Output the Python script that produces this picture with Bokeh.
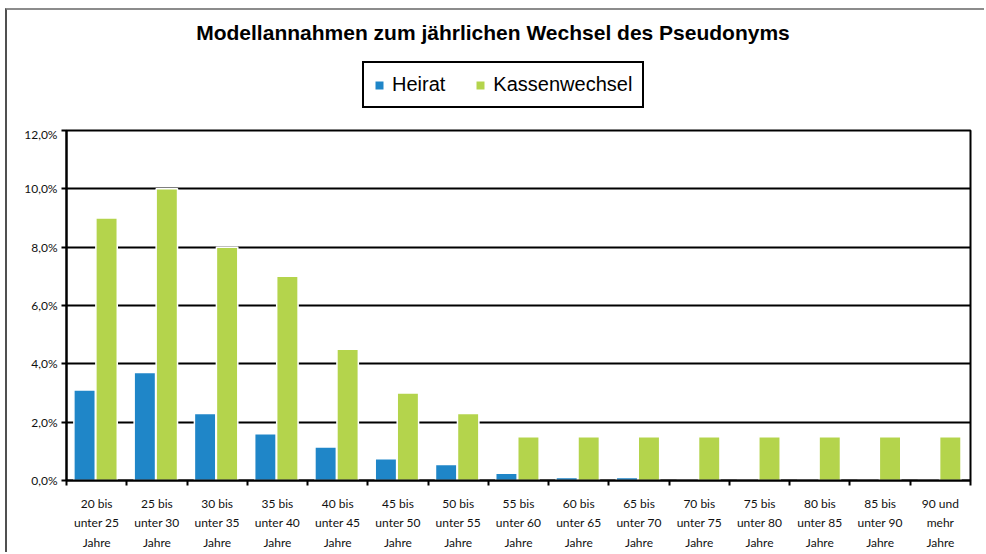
from bokeh.plotting import figure
from bokeh.layouts import column
from bokeh.models import FixedTicker, Legend, LegendItem, ColumnDataSource, Label
from bokeh.embed import file_html
from bokeh.resources import INLINE

categories = [
    "20 bis\nunter 25\nJahre", "25 bis\nunter 30\nJahre", "30 bis\nunter 35\nJahre",
    "35 bis\nunter 40\nJahre", "40 bis\nunter 45\nJahre", "45 bis\nunter 50\nJahre",
    "50 bis\nunter 55\nJahre", "55 bis\nunter 60\nJahre", "60 bis\nunter 65\nJahre",
    "65 bis\nunter 70\nJahre", "70 bis\nunter 75\nJahre", "75 bis\nunter 80\nJahre",
    "80 bis\nunter 85\nJahre", "85 bis\nunter 90\nJahre", "90 und\nmehr\nJahre",
]
heirat = [3.1, 3.7, 2.3, 1.6, 1.15, 0.75, 0.55, 0.25, 0.1, 0.1, 0.0, 0.0, 0.0, 0.0, 0.0]
kassenwechsel = [9.0, 10.0, 8.0, 7.0, 4.5, 3.0, 2.3, 1.5, 1.5, 1.5, 1.5, 1.5, 1.5, 1.5, 1.5]
y_ticks = [0, 2, 4, 6, 8, 10, 12]
y_tick_labels = ["0,0%", "2,0%", "4,0%", "6,0%", "8,0%", "10,0%", "12,0%"]
series_names = ["Heirat", "Kassenwechsel"]
title_text = "Modellannahmen zum jährlichen Wechsel des Pseudonyms"

BLUE = "#1F86C8"
GREEN = "#B4D44C"
W = 977
TOP_H = 116
MAIN_H = 426
BL, BR = 59, 14

# ---------- header: title + legend ----------
head = figure(width=W, height=TOP_H, output_backend="svg", toolbar_location=None,
              x_range=(66, 970), y_range=(0, TOP_H),
              x_axis_location=None, y_axis_location=None,
              min_border_left=BL, min_border_right=BR,
              min_border_top=0, min_border_bottom=0)
head.grid.visible = False
head.outline_line_color = None
head.background_fill_color = "white"
head.border_fill_color = "white"

title = Label(x=492.5, y=TOP_H - 22, text=title_text, text_align="center",
              text_baseline="middle", text_font="Liberation Sans",
              text_font_style="bold", text_font_size="21px", text_color="black")
head.add_layout(title)

# legend-only renderers (zero-height bars, outside the visible range)
lh = head.vbar(x=[0], top=[0], width=1, fill_color=BLUE, line_color=None)
lk = head.vbar(x=[0], top=[0], width=1, fill_color=GREEN, line_color=None)
legend = Legend(items=[LegendItem(label=series_names[0], renderers=[lh]),
                       LegendItem(label=series_names[1], renderers=[lk])],
                location=(296, TOP_H - 98), orientation="horizontal",
                label_text_font="Liberation Sans", label_text_font_size="20px",
                label_text_color="black",
                glyph_width=10, glyph_height=10, label_standoff=8, spacing=30,
                padding=10, margin=0, border_line_color="black", border_line_width=2,
                border_line_alpha=1.0, background_fill_alpha=1.0)
head.add_layout(legend)

# ---------- main chart ----------
n = len(categories)
idx = list(range(n))
src = ColumnDataSource(dict(
    xh=[i - 0.2 for i in idx],
    xk=[i + 0.165 for i in idx],
    heirat=heirat,
    kassen=kassenwechsel,
))

p = figure(width=W, height=MAIN_H, output_backend="svg", toolbar_location=None,
           x_range=(-0.5, n - 0.5), y_range=(0, 12),
           min_border_left=BL, min_border_right=BR, min_border_top=4, min_border_bottom=69)
p.background_fill_color = "white"
p.border_fill_color = "white"
p.outline_line_color = "black"
p.outline_line_width = 2

p.vbar(x="xh", top="heirat", width=0.355, source=src, fill_color=BLUE,
       line_color="white", line_width=1.5)
p.vbar(x="xk", top="kassen", width=0.355, source=src, fill_color=GREEN,
       line_color="white", line_width=1.5)

p.xgrid.visible = False
p.ygrid.ticker = FixedTicker(ticks=y_ticks)
p.ygrid.grid_line_color = "black"
p.ygrid.grid_line_width = 2

ya = p.yaxis[0]
ya.ticker = FixedTicker(ticks=y_ticks)
ya.major_label_overrides = {t: l for t, l in zip(y_ticks, y_tick_labels)}
ya.axis_line_color = "black"
ya.axis_line_width = 2
ya.major_tick_line_color = "black"
ya.major_tick_line_width = 2
ya.major_tick_in = 0
ya.major_tick_out = 5
ya.minor_tick_line_color = None
ya.major_label_text_font = "Lato"
ya.major_label_text_font_size = "12px"
ya.major_label_text_color = "#111111"
ya.major_label_standoff = 4

xa = p.xaxis[0]
xa.ticker = FixedTicker(ticks=idx, minor_ticks=[i + 0.5 for i in range(-1, n)])
xa.major_label_overrides = {i: c for i, c in zip(idx, categories)}
xa.axis_line_color = "black"
xa.axis_line_width = 2
xa.major_tick_line_color = None
xa.major_tick_in = 0
xa.major_tick_out = 0
xa.minor_tick_line_color = "black"
xa.minor_tick_line_width = 2
xa.minor_tick_in = 0
xa.minor_tick_out = 5
xa.major_label_text_font = "Lato"
xa.major_label_text_font_size = "12px"
xa.major_label_text_color = "#111111"
xa.major_label_text_line_height = 1.3
xa.major_label_standoff = 10

layout = column(head, p, spacing=0,
                styles={"border-top": "2px solid #8c8c8c",
                        "border-left": "2px solid #505050",
                        "margin-left": "5px", "margin-top": "8px"})
open("out.html", "w").write(file_html(layout, INLINE))
